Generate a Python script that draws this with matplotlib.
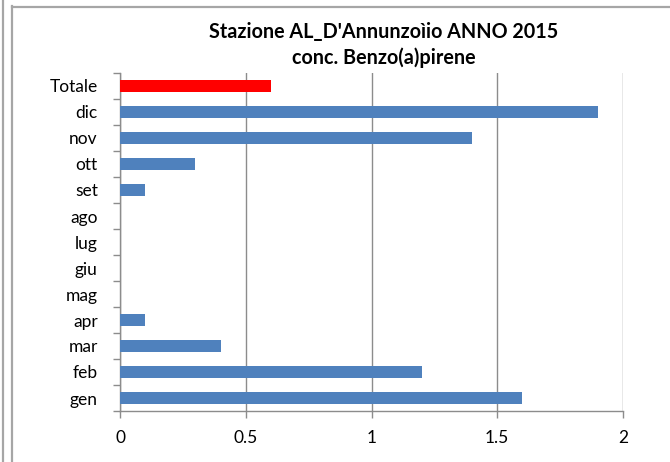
import matplotlib
matplotlib.use("Agg")
import matplotlib.pyplot as plt
from matplotlib.lines import Line2D
from matplotlib.ticker import FixedLocator, NullFormatter
import numpy as np

categories = ["gen", "feb", "mar", "apr", "mag", "giu", "lug", "ago", "set", "ott", "nov", "dic", "Totale"]
values = [1.6, 1.2, 0.4, 0.1, 0.0, 0.0, 0.0, 0.0, 0.1, 0.3, 1.4, 1.9, 0.6]
x_ticks = [0, 0.5, 1, 1.5, 2]
x_tick_labels = ["0", "0.5", "1", "1.5", "2"]

BLUE = "#4F81BD"
RED = "#FF0000"
GRID = "#8C8C8C"
FRAME = "#A6A6A6"

plt.rcParams["font.family"] = ["Lato", "DejaVu Sans"]

W, H = 670, 462
fig = plt.figure(figsize=(W / 100, H / 100), dpi=100)
ax = fig.add_axes([120 / W, 1 - 411 / H, (623 - 120) / W, (411 - 73) / H])

y = np.arange(len(categories))
colors = [BLUE] * (len(categories) - 1) + [RED]
ax.barh(y, values, height=0.46, color=colors, zorder=3)

ax.set_xlim(0, 2)
ax.set_ylim(-0.5, len(categories) - 0.5)

ax.set_xticks(x_ticks)
ax.set_xticklabels(x_tick_labels, fontsize=12.5)
ax.set_yticks(y)
ax.set_yticklabels(categories, fontsize=12.5)
ax.tick_params(axis="y", length=0, pad=16)
ax.yaxis.set_minor_locator(FixedLocator(np.arange(-0.5, len(categories), 1.0)))
ax.yaxis.set_minor_formatter(NullFormatter())
ax.tick_params(axis="y", which="minor", length=5, width=1, color=GRID, direction="out")
ax.tick_params(axis="x", length=5, width=1, color=GRID, direction="out", pad=9)

ax.grid(axis="x", color=GRID, linewidth=1, zorder=0)
for side in ("top", "right"):
    ax.spines[side].set_visible(False)
for side in ("left", "bottom"):
    ax.spines[side].set_color(GRID)
    ax.spines[side].set_linewidth(1)

fig.text(384 / W, 1 - 32 / H, "Stazione AL_D'Annunzoìio ANNO 2015",
         ha="center", va="center", fontsize=14.2, fontweight="bold")
fig.text(384 / W, 1 - 58 / H, "conc. Benzo(a)pirene",
         ha="center", va="center", fontsize=14.2, fontweight="bold")

# outer frame lines
fig.add_artist(Line2D([2.5 / W, 2.5 / W], [0, 1], transform=fig.transFigure, color=FRAME, linewidth=1.6))
fig.add_artist(Line2D([12.5 / W, 12.5 / W], [0, 1 - 6 / H], transform=fig.transFigure, color=FRAME, linewidth=1.6))
fig.add_artist(Line2D([12.5 / W, 1], [1 - 6.5 / H, 1 - 6.5 / H], transform=fig.transFigure, color=FRAME, linewidth=1.6))

fig.savefig("out.png", dpi=100)
